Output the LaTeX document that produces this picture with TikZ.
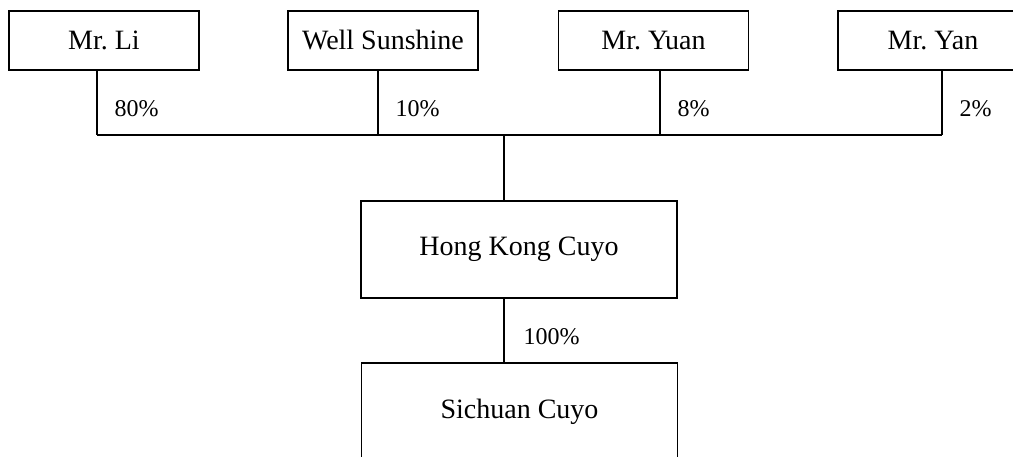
\documentclass[tikz,border=0pt]{standalone}
\usepackage{fontspec}
\setmainfont{Liberation Serif}
\frenchspacing
\usetikzlibrary{positioning}

\begin{document}
\begin{tikzpicture}[x=1pt,y=-1pt,line width=1.1pt,
        holder/.style={draw,minimum width=190,minimum height=59,inner sep=0pt,font=\fontsize{28}{30}\selectfont},
        company/.style={draw,minimum width=316,minimum height=97,inner sep=0pt,font=\fontsize{28}{30}\selectfont},
        pct/.style={anchor=west,xshift=17pt,yshift=-6pt,inner sep=0pt,font=\fontsize{24}{26}\selectfont}]
    % page size of the reference
    \useasboundingbox (0,0) rectangle (1013,457);
    \clip (0,0) rectangle (1013,457);

    % shareholders
    \node[holder] (li)   at (104,40.5)   {Mr. Li};
    \node[holder] (well) at (383,40.5)   {Well Sunshine};
    \node[holder] (yuan) at (653.5,40.5) {Mr. Yuan};
    \node[holder] (yan)  at (933,40.5)   {Mr. Yan};

    % companies
    \node[company] (hk) at (519,249.5) {Hong Kong Cuyo};
    \node[company] (sc) at (519.5,411.5) {Sichuan Cuyo};

    % junctions on the bus
    \coordinate (j1) at (97,135);
    \coordinate (j2) at (378,135);
    \coordinate (j3) at (660,135);
    \coordinate (j4) at (942,135);
    \coordinate (j0) at (504,135);

    % shares held
    \draw (j1 |- li.south)   -- node[pct] {80\%} (j1);
    \draw (j2 |- well.south) -- node[pct] {10\%} (j2);
    \draw (j3 |- yuan.south) -- node[pct] {8\%}  (j3);
    \draw (j4 |- yan.south)  -- node[pct] {2\%}  (j4);
    \draw (j1) -- (j4);

    \draw (j0) -- (j0 |- hk.north);
    \draw (j0 |- hk.south) -- node[pct,xshift=2pt] {100\%} (j0 |- sc.north);
\end{tikzpicture}
\end{document}
